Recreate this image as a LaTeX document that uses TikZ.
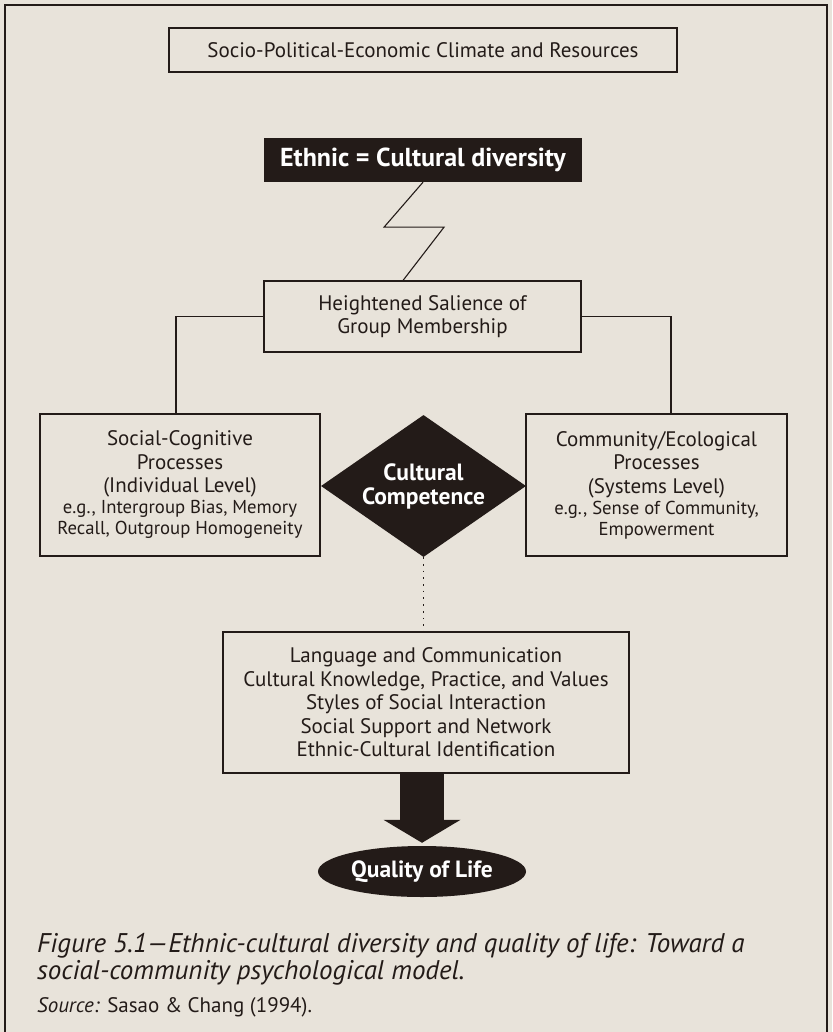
\documentclass[tikz,border=0pt]{standalone}
\usepackage{fontspec}
\setmainfont{PT Sans}
\usetikzlibrary{shapes.geometric,arrows.meta}
\definecolor{paper}{HTML}{E8E3DA}
\definecolor{ink}{HTML}{231B18}
\newcommand{\smalltext}{\fontsize{18.7}{21}\selectfont}

\begin{document}
\begin{tikzpicture}[x=1pt, y=-1pt,
  box/.style={draw=ink, line width=1.1pt, fill=paper, text=ink, align=center, inner sep=0pt, font=\fontsize{21}{23.5}\selectfont},
  darkbox/.style={fill=ink, text=white, align=center, inner sep=0pt, font=\bfseries\fontsize{23.5}{24}\selectfont},
  link/.style={draw=ink, line width=1.1pt},
  captiontext/.style={anchor=base west, inner sep=0pt, text=ink}]
% Set the page size
\def\pagew{832}
\def\pageh{1032}
\useasboundingbox (0,0) rectangle (\pagew,\pageh);
\fill[paper] (0,0) rectangle (\pagew,\pageh);
\draw[ink, line width=1.3pt] (5,\pageh) |- (827,5) -- (827,\pageh);

% Draw the boxes and insert the texts
\node[box, minimum width=508pt, minimum height=44pt] (climate) at (423,50) {Socio-Political-Economic Climate and Resources};
\node[darkbox, minimum width=318pt, minimum height=44pt, font=\bfseries\fontsize{26}{28}\selectfont] (ethnic) at (423,160) {Ethnic = Cultural diversity};
\node[box, minimum width=317pt, minimum height=71pt] (salience) at (422.5,316.5) {Heightened Salience of\\Group Membership};
\node[box, minimum width=280pt, minimum height=142pt] (social) at (180,485) {Social-Cognitive\\Processes\\(Individual Level)\\[-2.5pt]\smalltext e.g., Intergroup Bias, Memory\\[-2.5pt]\smalltext Recall, Outgroup Homogeneity};
\node[box, minimum width=261pt, minimum height=142pt] (community) at (656.5,485) {Community/Ecological\\Processes\\(Systems Level)\\[-2.5pt]\smalltext e.g., Sense of Community,\\[-2.5pt]\smalltext Empowerment};
\node[darkbox, diamond, aspect=1.44, minimum width=205pt, minimum height=142pt] (competence) at (423.5,486) {Cultural\\Competence};
\node[box, minimum width=406pt, minimum height=141pt] (language) at (426,702.5) {Language and Communication\\Cultural Knowledge, Practice, and Values\\Styles of Social Interaction\\Social Support and Network\\Ethnic-Cultural Identification};
\node[darkbox, ellipse, minimum width=208pt, minimum height=51pt] (life) at (422,871.5) {Quality of Life};

% Draw the connectors
\draw[link] (ethnic.south) -- ++(-39,45) -- ++(60,0) -- (salience.north -| 403,0);
\draw[link] (salience.west) -| ([xshift=-4pt]social.north);
\draw[link] (salience.east) -| ([xshift=14.5pt]community.north);
\draw[ink, line width=1.7pt, dash pattern=on 1.7pt off 5pt] (competence.south) -- (competence.south |- language.north);
\draw[ink, line width=44pt, -{Triangle[length=23pt, width=76pt]}] (language.south -| life.north) -- ([yshift=3pt]life.north);

% Caption
\node[captiontext, font=\itshape\fontsize{27}{27}\selectfont] (caption) at (37,952) {Figure 5.1—Ethnic-cultural diversity and quality of life: Toward a};
\node[captiontext, font=\itshape\fontsize{27}{27}\selectfont] (captiontail) at (37,979) {social-community psychological model.};
\node[captiontext, font=\fontsize{21}{22}\selectfont] (source) at (37,1012) {\textit{Source:} Sasao \& Chang (1994).};
\end{tikzpicture}
\end{document}
